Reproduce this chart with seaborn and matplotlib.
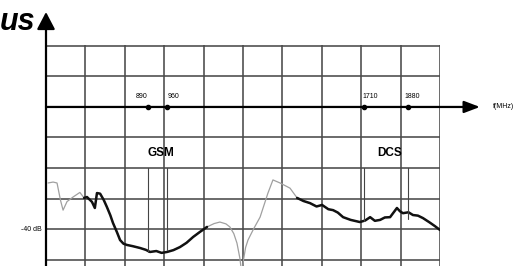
import pandas as pd
import matplotlib.pyplot as plt
import seaborn as sns

# return loss trace (MHz, dB)
freq_mhz = [508, 527, 542, 555, 565, 580, 603, 629, 645, 656, 675, 686, 694, 706, 720, 732,
            745, 755, 770, 782, 795, 808, 830, 858, 880, 896, 920, 940, 961, 985,
            1010, 1035, 1060, 1085, 1113, 1140, 1162, 1185, 1200, 1215, 1227, 1238,
            1246, 1252, 1260, 1269, 1290, 1315, 1345, 1364, 1391, 1429, 1456, 1480,
            1505, 1530, 1551, 1575, 1593, 1611, 1631, 1660, 1695, 1715, 1734, 1752,
            1772, 1790, 1810, 1836, 1848, 1859, 1880, 1897, 1916, 1935, 1960, 1980, 2000]
s11_db = [-24.9, -24.6, -24.9, -30.5, -33.8, -31.0, -29.5, -28.0, -29.8, -29.5, -31.1, -33.1, -28.2,
          -28.4, -30.5, -32.8, -35.5, -38.0, -41.0, -43.6, -44.8, -45.2, -45.6, -46.2,
          -46.8, -47.5, -47.2, -47.8, -47.5, -46.9, -45.9, -44.5, -42.6, -41.0, -39.3,
          -38.2, -37.7, -38.3, -39.3, -41.5, -44.6, -49.5, -55.0, -50.0, -46.0, -43.6,
          -40.0, -36.1, -28.2, -23.9, -24.9, -26.6, -29.8, -30.8, -31.5, -32.6, -32.1,
          -33.5, -33.8, -34.6, -36.1, -37.0, -37.7, -37.2, -36.1, -37.3, -37.0, -36.2,
          -36.1, -33.1, -34.2, -34.8, -34.5, -35.4, -35.6, -36.4, -37.8, -39.0, -40.3]

# frequency bands (MHz) and band markers on the f axis
band_names = ["GSM", "DCS"]
band_lo = [890, 1710]
band_hi = [960, 1880]
band_edge_db = [-47.5, -37.2]
band_top_db = -20
marker_freqs = [890, 960, 1710, 1880]

df = pd.DataFrame({"f": freq_mhz, "db": s11_db})
in_gsm = (df["f"] >= 645) & (df["f"] <= 1113)
in_dcs = df["f"] >= 1456

sns.set_style("white")
plt.rcParams['font.family'] = ['Liberation Sans', 'DejaVu Sans']
plt.rcParams['text.color'] = 'black'

fig = plt.figure(figsize=(5.29, 2.66), dpi=100)
ax = fig.add_axes([46 / 529, 0, 394 / 529, 1 - 45 / 266])
ax.set_xlim(500, 2000)
ax.set_ylim(-52.1, 20.3)
ax.set_xticks(range(500, 2001, 150))
ax.set_yticks(range(-50, 21, 10))
ax.tick_params(length=0, labelbottom=False, labelleft=False)
ax.grid(True, color='#4a4a4a', lw=1.15)
for s in ax.spines.values():
    s.set_visible(False)

# thin trace everywhere, thick over the working bands
sns.lineplot(data=df, x="f", y="db", ax=ax, color='#a0a0a0', lw=0.9,
             sort=False, estimator=None)
sns.lineplot(data=df[in_gsm], x="f", y="db", ax=ax, color='#111111', lw=1.8,
             sort=False, estimator=None)
sns.lineplot(data=df[in_dcs], x="f", y="db", ax=ax, color='#111111', lw=1.8,
             sort=False, estimator=None)
ax.set_xlabel("")
ax.set_ylabel("")

# band brackets
for name, lo, hi, edge in zip(band_names, band_lo, band_hi, band_edge_db):
    ax.plot([lo, lo], [edge, band_top_db], color='#444444', lw=0.8)
    ax.plot([hi, hi], [edge + 0.5, band_top_db], color='#444444', lw=0.8)
    ax.text((lo + hi) / 2 + 13, -15.1, name, ha='center', va='center',
            fontsize=8.5, fontweight='bold')

# axes with arrows
ax.annotate('', xy=(2152, 0), xytext=(500, 0), annotation_clip=False,
            arrowprops=dict(arrowstyle='-|>,head_length=0.95,head_width=0.36',
                            color='black', lw=1.6, shrinkA=0, shrinkB=0))
ax.annotate('', xy=(500, 31.1), xytext=(500, -53), annotation_clip=False,
            arrowprops=dict(arrowstyle='-|>,head_length=1.05,head_width=0.55',
                            color='black', lw=1.6, shrinkA=0, shrinkB=0))

ax.scatter(marker_freqs, [0] * len(marker_freqs), s=9, color='black', zorder=5,
           clip_on=False)
ax.text(886, 3.3, "890", ha='right', va='center', fontsize=5)
ax.text(963, 3.3, "960", ha='left', va='center', fontsize=5)
ax.text(1706, 3.3, "1710", ha='left', va='center', fontsize=5)
ax.text(1866, 3.3, "1880", ha='left', va='center', fontsize=5)
ax.text(2200, 0, "f(MHz)", ha='left', va='center', fontsize=5)
ax.text(484, -40, "-40 dB", ha='right', va='center', fontsize=5)
ax.text(458, 25.2, "us", ha='right', va='baseline', fontsize=22,
        fontweight='bold', fontstyle='italic', family=['Liberation Sans'])

fig.savefig("out.png", dpi=100)
